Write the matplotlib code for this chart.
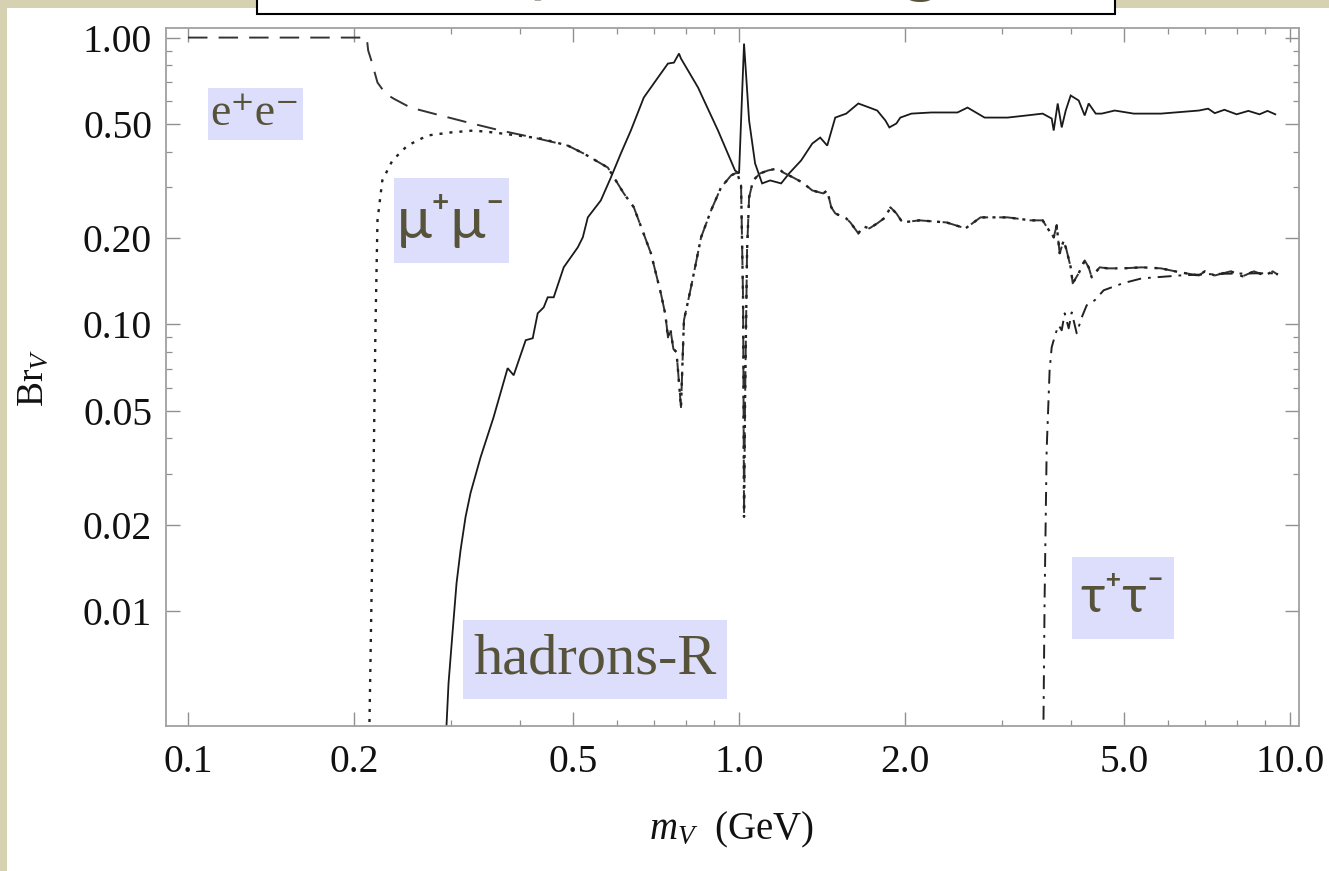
import matplotlib
matplotlib.use('Agg')
import matplotlib.pyplot as plt
from matplotlib.patches import Rectangle
from matplotlib.ticker import FixedLocator, FixedFormatter, NullFormatter

plt.rcParams['font.family'] = ['Liberation Serif', 'DejaVu Serif']
plt.rcParams['mathtext.fontset'] = 'custom'
plt.rcParams['mathtext.rm'] = 'Liberation Serif'
plt.rcParams['mathtext.it'] = 'Liberation Serif:italic'
plt.rcParams['lines.scale_dashes'] = False

# (mass in GeV, branching ratio)
# e+e- alone below the muon threshold, then falling
ee_pts = [(0.100, 1.000), (0.211, 1.000), (0.2123, 0.901), (0.2151, 0.832), (0.2207, 0.697),
          (0.2282, 0.638), (0.2359, 0.613), (0.2533, 0.570), (0.2790, 0.543), (0.3216, 0.506),
          (0.3693, 0.474), (0.4240, 0.448), (0.4889, 0.420)]

# mu+mu- switching on at 2 m_mu
mumu_pts = [(0.2125, 0.001), (0.2134, 0.0040), (0.2170, 0.0286), (0.2188, 0.0953), (0.2207, 0.2304),
            (0.2252, 0.3175), (0.2349, 0.3727), (0.2501, 0.420), (0.2720, 0.4555), (0.2995, 0.4667),
            (0.3298, 0.474), (0.3585, 0.4667), (0.3964, 0.4555), (0.4365, 0.4446), (0.4889, 0.420)]

# above ~0.5 GeV both lepton channels lie on top of each other
lep_pts = [(0.4889, 0.420), (0.5226, 0.394), (0.5779, 0.352), (0.6178, 0.286), (0.6441, 0.256),
           (0.6918, 0.177), (0.7214, 0.128), (0.7350, 0.108), (0.7430, 0.090), (0.7500, 0.097),
           (0.7600, 0.082), (0.7700, 0.080), (0.7845, 0.0514), (0.7943, 0.1033), (0.8181, 0.1346),
           (0.8532, 0.201), (0.8895, 0.2495), (0.9274, 0.300), (0.9672, 0.3305), (0.9917, 0.3385),
           (1.0084, 0.305), (1.0170, 0.121), (1.0210, 0.0213), (1.0254, 0.0543), (1.0340, 0.181),
           (1.0428, 0.277), (1.0604, 0.3175), (1.092, 0.336), (1.129, 0.344), (1.178, 0.350),
           (1.202, 0.3385), (1.254, 0.325), (1.302, 0.3125), (1.358, 0.293), (1.422, 0.286),
           (1.445, 0.293), (1.470, 0.256), (1.495, 0.2436), (1.565, 0.234), (1.592, 0.2266),
           (1.646, 0.2075), (1.681, 0.2195), (1.724, 0.216), (1.781, 0.2248), (1.843, 0.236),
           (1.882, 0.256), (1.930, 0.2436), (1.979, 0.2266), (2.125, 0.2304), (2.379, 0.2266),
           (2.576, 0.216), (2.743, 0.236), (3.072, 0.236), (3.382, 0.2304), (3.556, 0.2304),
           (3.631, 0.216), (3.724, 0.201), (3.771, 0.2213), (3.818, 0.177), (3.883, 0.196),
           (3.931, 0.181), (3.998, 0.158), (4.032, 0.139), (4.134, 0.1506), (4.239, 0.167),
           (4.310, 0.158), (4.365, 0.1458), (4.513, 0.158), (4.668, 0.1567), (4.971, 0.1567),
           (5.382, 0.158), (5.829, 0.1567), (6.310, 0.1518), (6.833, 0.148), (7.000, 0.153),
           (7.300, 0.148), (7.800, 0.153), (8.200, 0.147), (8.600, 0.153), (9.000, 0.148),
           (9.300, 0.153), (9.500, 0.149)]

# hadrons from R
had_pts = [(0.2920, 0.0030), (0.2945, 0.0040), (0.2970, 0.0056), (0.3020, 0.0084), (0.3071, 0.0125),
           (0.3123, 0.0163), (0.3189, 0.0213), (0.3256, 0.0258), (0.3396, 0.0344), (0.3585, 0.0474),
           (0.3802, 0.0703), (0.3899, 0.0664), (0.4100, 0.0880), (0.4222, 0.0894), (0.4311, 0.1092),
           (0.4421, 0.1146), (0.4495, 0.1242), (0.4609, 0.1242), (0.4806, 0.158), (0.5097, 0.1855),
           (0.5205, 0.201), (0.5315, 0.236), (0.5612, 0.2704), (0.5853, 0.325), (0.6101, 0.394),
           (0.6362, 0.474), (0.6716, 0.6178), (0.7125, 0.7254), (0.7429, 0.8117), (0.7618, 0.818),
           (0.7780, 0.8797), (0.7845, 0.845), (0.8425, 0.6697), (0.8639, 0.6033), (0.9158, 0.474),
           (0.9833, 0.344), (1.0000, 0.336), (1.0210, 0.953), (1.0428, 0.514), (1.0693, 0.364),
           (1.1011, 0.310), (1.1387, 0.3175), (1.1923, 0.310), (1.2328, 0.336), (1.2961, 0.3727),
           (1.358, 0.427), (1.4037, 0.448), (1.4454, 0.420), (1.4947, 0.526), (1.565, 0.543),
           (1.646, 0.589), (1.724, 0.570), (1.7814, 0.5566), (1.843, 0.514), (1.874, 0.486),
           (1.930, 0.5017), (1.962, 0.526), (2.055, 0.543), (2.234, 0.548), (2.491, 0.548),
           (2.598, 0.570), (2.790, 0.526), (3.072, 0.526), (3.325, 0.535), (3.556, 0.543),
           (3.693, 0.522), (3.724, 0.474), (3.787, 0.589), (3.851, 0.486), (3.916, 0.5566),
           (3.998, 0.628), (4.134, 0.6033), (4.239, 0.535), (4.310, 0.589), (4.439, 0.543),
           (4.551, 0.543), (4.806, 0.5566), (5.204, 0.543), (5.829, 0.543), (6.833, 0.5566),
           (7.100, 0.565), (7.300, 0.545), (7.600, 0.560), (8.000, 0.540), (8.400, 0.555),
           (8.800, 0.540), (9.100, 0.555), (9.400, 0.540)]

# tau+tau- switching on at 2 m_tau
tau_pts = [(3.556, 0.002), (3.585, 0.0109), (3.616, 0.0364), (3.661, 0.0691), (3.693, 0.0832),
           (3.755, 0.093), (3.802, 0.0992), (3.851, 0.0953), (3.899, 0.1092), (3.965, 0.0968),
           (4.015, 0.110), (4.100, 0.093), (4.187, 0.1057), (4.275, 0.1165), (4.421, 0.1213),
           (4.589, 0.1314), (4.971, 0.139), (5.382, 0.1446), (6.310, 0.148), (7.430, 0.150),
           (8.710, 0.1506), (9.430, 0.1506)]

x_ticks = [0.1, 0.2, 0.5, 1.0, 2.0, 5.0, 10.0]
x_labels = ['0.1', '0.2', '0.5', '1.0', '2.0', '5.0', '10.0']
x_minor = [0.3, 0.4, 0.6, 0.7, 0.8, 0.9, 3, 4, 6, 7, 8, 9]
y_ticks = [0.01, 0.02, 0.05, 0.1, 0.2, 0.5, 1.0]
y_labels = ['0.01', '0.02', '0.05', '0.10', '0.20', '0.50', '1.00']
y_minor = [0.03, 0.04, 0.06, 0.07, 0.08, 0.09, 0.3, 0.4, 0.6, 0.7, 0.8, 0.9]

W, H = 1329, 871
beige = '#d5d1b1'
olive = '#57533a'
lavender = '#dcdefb'

fig = plt.figure(figsize=(W / 100, H / 100), dpi=100, facecolor=beige)

# white slide panel and the clipped title box on top
fig.add_artist(Rectangle((7 / W, 0), 1, 1 - 8 / H, transform=fig.transFigure,
                         fc='white', ec='none', zorder=0))
fig.add_artist(Rectangle((257 / W, 1 - 14 / H), (1115 - 257) / W, 0.2, transform=fig.transFigure,
                         fc='white', ec='black', lw=1.5, zorder=1, clip_on=False))
fig.text(342 / W, 1 + 14.5 / H, 'Decay Branching Ratios', fontsize=58, color=olive,
         family=['Lato', 'DejaVu Sans'], va='baseline', zorder=2)

ax = fig.add_axes([166 / W, 1 - 726 / H, (1299 - 166) / W, (726 - 28) / H])
ax.set_xscale('log')
ax.set_yscale('log')
ax.set_xlim(0.0912, 10.38)
ax.set_ylim(0.00397, 1.08)


def unzip(pts):
    return [p[0] for p in pts], [p[1] for p in pts]


x, y = unzip(had_pts)
ax.plot(x, y, color='#1a1a1a', lw=1.3, solid_joinstyle='miter')
x, y = unzip(ee_pts + lep_pts[1:])
ax.plot(x, y, color='#333333', lw=1.4, ls=(0, (14, 8)))
x, y = unzip(mumu_pts + lep_pts[1:])
ax.plot(x, y, color='#222222', lw=1.7, ls=(0, (2.2, 5)))
x, y = unzip(tau_pts)
ax.plot(x, y, color='#222222', lw=1.4, ls=(0, (10, 5, 2, 5)))

for side in ['left', 'right', 'top', 'bottom']:
    ax.spines[side].set_color('#a0a0a0')
    ax.spines[side].set_linewidth(1.3)

ax.xaxis.set_major_locator(FixedLocator(x_ticks))
ax.xaxis.set_major_formatter(FixedFormatter(x_labels))
ax.xaxis.set_minor_locator(FixedLocator(x_minor))
ax.xaxis.set_minor_formatter(NullFormatter())
ax.yaxis.set_major_locator(FixedLocator(y_ticks))
ax.yaxis.set_major_formatter(FixedFormatter(y_labels))
ax.yaxis.set_minor_locator(FixedLocator(y_minor))
ax.yaxis.set_minor_formatter(NullFormatter())
ax.tick_params(which='both', direction='in', top=True, right=True, color='#909090')
ax.tick_params(which='major', length=10, width=1.0, labelsize=28.5, pad=10, labelcolor='#111111')
ax.tick_params(axis='x', which='major', pad=13)
ax.tick_params(which='minor', length=4, width=0.9)

fig.text(731 / W, 1 - 830 / H, r'$m_V$  (GeV)', fontsize=28, color='#111111',
         ha='center', va='center')
fig.text(33 / W, 1 - 378 / H, r'Br$_V$', fontsize=27, color='#111111', rotation=90,
         ha='center', va='center')


# lavender name tags laid over the plot
def tag(x0, y0, x1, y1, text, family, size):
    fig.add_artist(Rectangle((x0 / W, 1 - y1 / H), (x1 - x0) / W, (y1 - y0) / H,
                             transform=fig.transFigure, fc=lavender, ec='none', zorder=5))
    fig.text((x0 + x1) / 2 / W, 1 - (y0 + y1) / 2 / H, text, fontsize=size, color=olive,
             family=family, ha='center', va='center', zorder=6)


serif = ['Liberation Serif', 'DejaVu Serif']
sans = ['Lato', 'DejaVu Sans']
tag(208, 88, 303, 140, 'e\u207ae\u207b', serif, 33)
tag(394, 178, 509, 263, '\u03bc\u207a\u03bc\u207b', sans, 42)
tag(463, 620, 727, 699, 'hadrons-R', serif, 42)
tag(1072, 557, 1174, 639, '\u03c4\u207a\u03c4\u207b', sans, 38)

fig.savefig('out.png', dpi=100, facecolor=beige)
